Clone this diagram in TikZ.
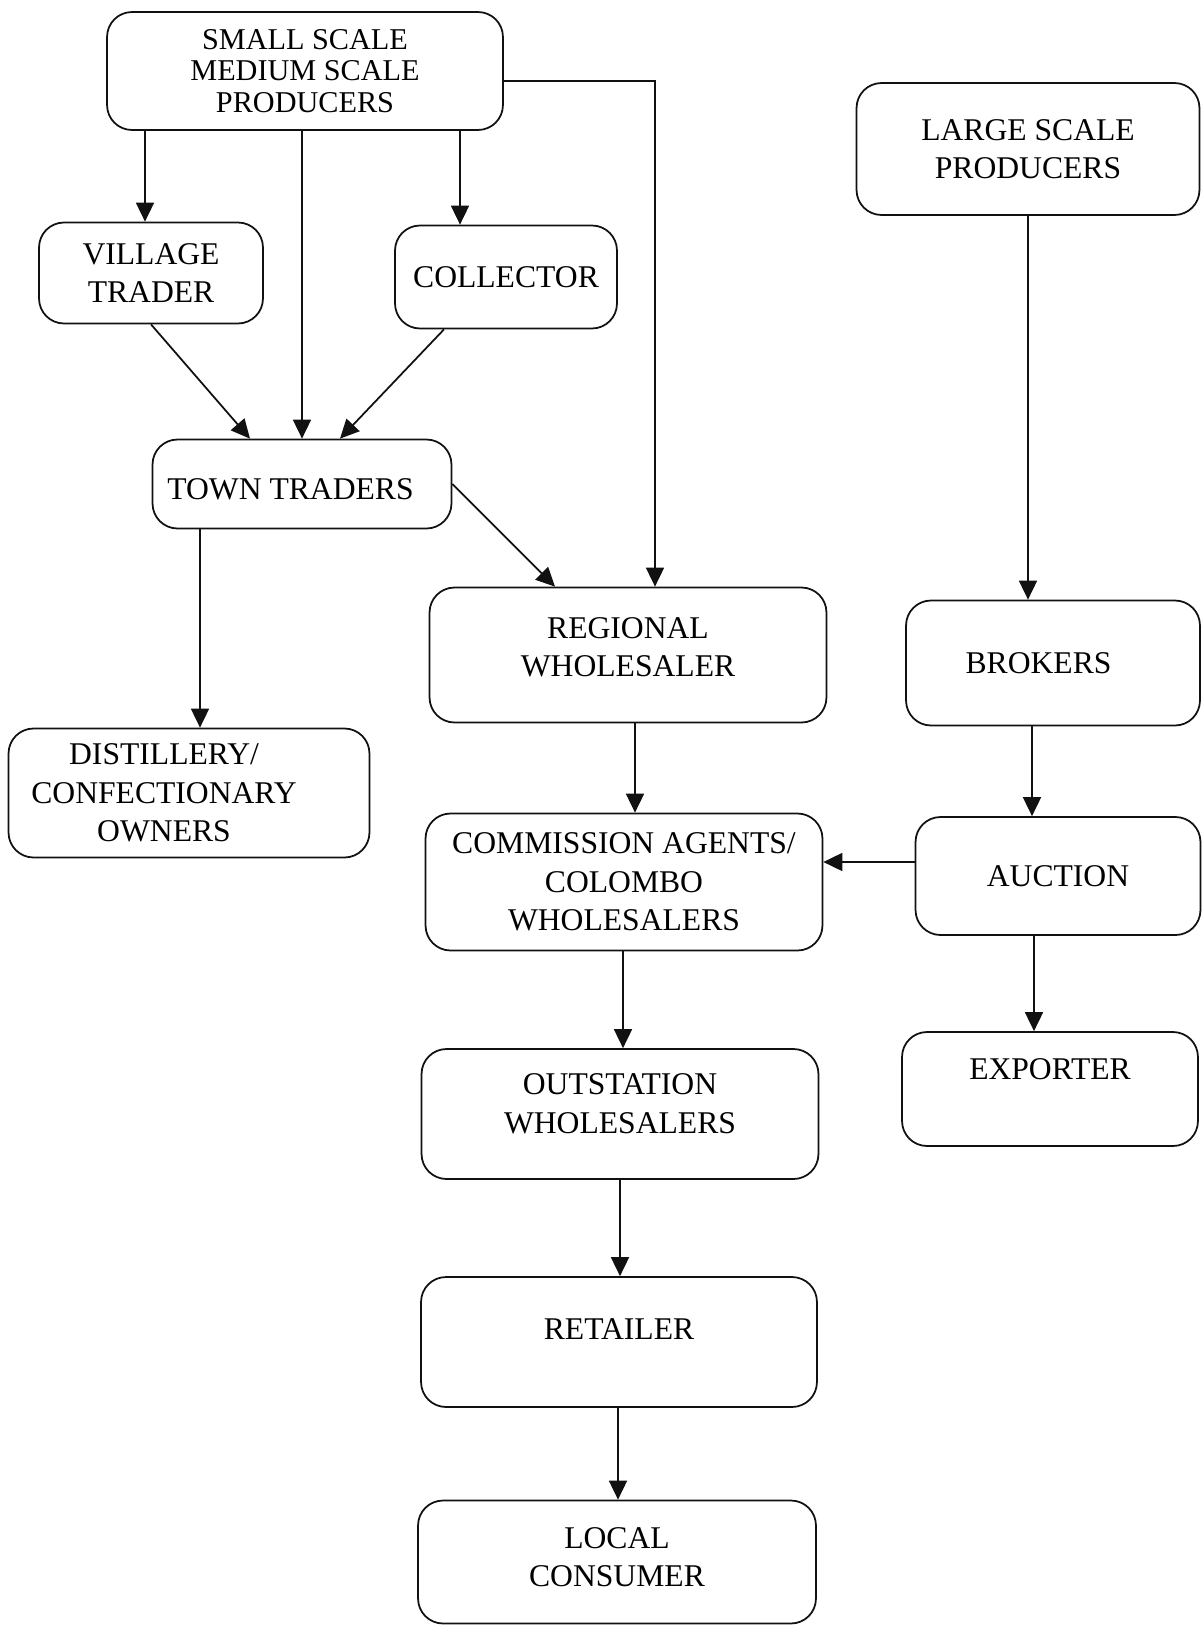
\documentclass[tikz,border=0pt]{standalone}
\usepackage{fontspec}
\setmainfont{Liberation Serif}
\usetikzlibrary{arrows.meta,positioning}
\definecolor{ink}{HTML}{111111}
\tikzset{
  flowbox/.style={draw=ink,line width=1pt,rounded corners=0.5cm,
                  align=center,inner sep=2pt,
                  font=\fontsize{18}{21.8}\selectfont},
  headbox/.style={flowbox,font=\fontsize{17.2}{17.8}\selectfont},
  flowarr/.style={-{Triangle[length=0.38cm,width=0.36cm]},line width=1pt,color=ink}
}
\newcommand{\padright}[1]{\rule{#1}{0pt}}
\begin{document}
\begin{tikzpicture}[x=0.02cm,y=-0.02cm]
  \useasboundingbox (0,0) rectangle (1203,1626);
  % producers
  \node[headbox,minimum width=7.92cm,minimum height=2.36cm] (prod) at (305,71)
    {SMALL SCALE\\MEDIUM SCALE\\PRODUCERS};
  \node[flowbox,minimum width=6.86cm,minimum height=2.64cm] (lsp) at (1028,149)
    {LARGE SCALE\\PRODUCERS};
  % traders
  \node[flowbox,minimum width=4.48cm,minimum height=2.02cm] (vil) at (151,273) {VILLAGE\\TRADER};
  \node[flowbox,minimum width=4.44cm,minimum height=2.06cm] (col) at (506,277) {COLLECTOR};
  \node[flowbox,minimum width=5.98cm,minimum height=1.78cm,text height=0.62cm] (town) at (302,484)
    {TOWN TRADERS\padright{0.46cm}};
  \node[flowbox,minimum width=7.22cm,minimum height=2.58cm] (dis) at (189,793)
    {DISTILLERY/\padright{1cm}\\CONFECTIONARY\padright{1cm}\\OWNERS\padright{1cm}};
  % wholesale chain
  \node[flowbox,minimum width=7.94cm,minimum height=2.70cm,text depth=0.33cm] (reg) at (628,655)
    {REGIONAL\\WHOLESALER};
  \node[flowbox,minimum width=7.94cm,minimum height=2.74cm] (com) at (624,882)
    {COMMISSION AGENTS/\\COLOMBO\\WHOLESALERS};
  \node[flowbox,minimum width=7.94cm,minimum height=2.60cm,text depth=0.42cm] (out) at (620,1114)
    {OUTSTATION\\WHOLESALERS};
  \node[flowbox,minimum width=7.92cm,minimum height=2.60cm,text depth=0.5cm] (ret) at (619,1342) {RETAILER};
  \node[flowbox,minimum width=7.96cm,minimum height=2.46cm,text depth=0.2cm] (loc) at (617,1562)
    {LOCAL\\CONSUMER};
  % auction side
  \node[flowbox,minimum width=5.88cm,minimum height=2.50cm] (bro) at (1053,663) {BROKERS\padright{0.58cm}};
  \node[flowbox,minimum width=5.70cm,minimum height=2.36cm] (auc) at (1058,876) {AUCTION};
  \node[flowbox,minimum width=5.92cm,minimum height=2.28cm,text depth=0.8cm] (exp) at (1050,1089) {EXPORTER};

  \draw[flowarr] (prod.south -| 145,0) -- (vil.north -| 145,0);
  \draw[flowarr] (prod.south -| town.north) -- (town.north);
  \draw[flowarr] (prod.south -| 460,0) -- (col.north -| 460,0);
  \draw[flowarr] (prod.east |- 0,81) -| (reg.north -| 655,0);
  \draw[flowarr] (vil.south) -- (town.north -| 250,0);
  \draw[flowarr] (col.south -| 444,0) -- (town.north -| 340,0);
  \draw[flowarr] (town.east) -- (reg.north -| 555,0);
  \draw[flowarr] (town.south -| 200,0) -- (dis.north -| 200,0);
  \draw[flowarr] (lsp.south) -- (bro.north -| lsp.south);
  \draw[flowarr] (reg.south -| 635,0) -- (com.north -| 635,0);
  \draw[flowarr] (bro.south -| 1032,0) -- (auc.north -| 1032,0);
  \draw[flowarr] (auc.west |- 0,862) -- (com.east |- 0,862);
  \draw[flowarr] (auc.south -| 1034,0) -- (exp.north -| 1034,0);
  \draw[flowarr] (com.south -| 623,0) -- (out.north -| 623,0);
  \draw[flowarr] (out.south -| 620,0) -- (ret.north -| 620,0);
  \draw[flowarr] (ret.south -| 618,0) -- (loc.north -| 618,0);
\end{tikzpicture}
\end{document}
